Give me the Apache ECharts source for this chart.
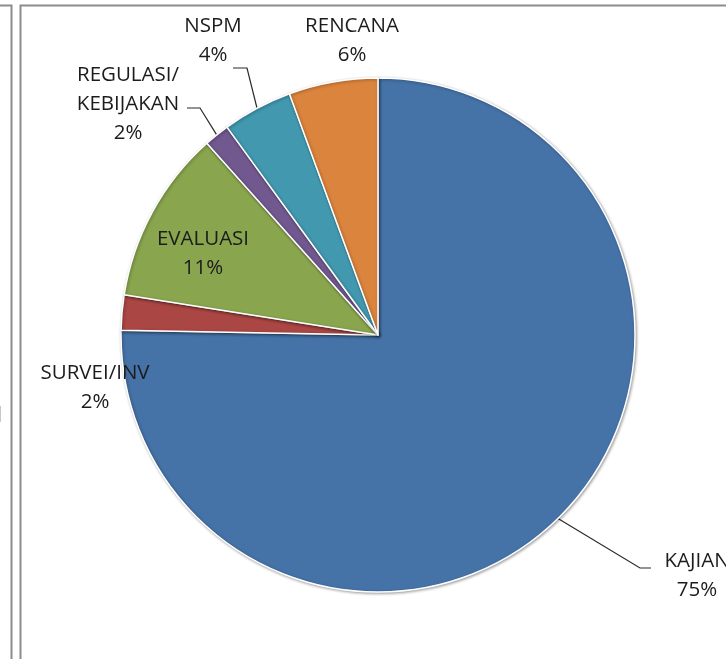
<!DOCTYPE html>
<html><head><meta charset="utf-8">
<script src="https://cdn.jsdelivr.net/npm/echarts@6/dist/echarts.min.js"></script>
<style>html,body{margin:0;padding:0;background:#fff}#c{width:726px;height:659px}</style>
</head><body><div id="c"></div>
<script>
const categories = ['KAJIAN', 'SURVEI/INV', 'EVALUASI', 'REGULASI/\nKEBIJAKAN', 'NSPM', 'RENCANA'];
const shares = [75.3, 2.2, 10.9, 1.6, 4.4, 5.6];
const colors = ['#4572A7', '#AA4643', '#89A54E', '#71588F', '#4198AF', '#DB843D'];

// label placement (text block centre) and leader line bends
const labelPlace = [
  { x: 697, y: 576, bend: [640, 568], end: [651, 568] },
  { x: 95, y: 388 },
  { x: 203, y: 254 },
  { x: 128, y: 104, bend: [200, 108], end: [187, 108] },
  { x: 213, y: 41, bend: [247, 68], end: [233, 68] },
  { x: 352, y: 41 }
];

const chart = echarts.init(document.getElementById('c'), null, { renderer: 'canvas' });
const data = categories.map((name, i) => ({
  name: name,
  value: shares[i],
  itemStyle: { color: colors[i] },
  label: { position: i === 2 ? 'inside' : 'outside' },
  labelLine: { show: !!labelPlace[i].bend }
}));

chart.setOption({
  animation: false,
  backgroundColor: '#ffffff',
  graphic: [
    { type: 'polyline', shape: { points: [[0, 5.5], [11.5, 5.5], [11.5, 659]] }, style: { stroke: '#8c8c8c', lineWidth: 2, fill: null } },
    { type: 'polyline', shape: { points: [[20.5, 659], [20.5, 5.5], [726, 5.5]] }, style: { stroke: '#8c8c8c', lineWidth: 2, fill: null } },
    { type: 'line', shape: { x1: 0.5, y1: 406, x2: 0.5, y2: 422 }, style: { stroke: '#c8c8c8', lineWidth: 1 } }
  ],
  series: [{
    type: 'pie',
    center: [378, 335],
    radius: 257,
    startAngle: 90,
    clockwise: true,
    avoidLabelOverlap: false,
    percentPrecision: 0,
    emphasis: { disabled: true },
    itemStyle: {
      borderColor: '#ffffff',
      borderWidth: 1.5,
      shadowBlur: 3,
      shadowColor: 'rgba(0,0,0,0.35)',
      shadowOffsetX: 1,
      shadowOffsetY: 1
    },
    label: {
      formatter: '{b}\n{d}%',
      fontFamily: 'Open Sans',
      fontSize: 20.5,
      lineHeight: 29,
      color: '#1c1c1c',
      align: 'center'
    },
    labelLine: {
      lineStyle: { color: '#2a2a2a', width: 1.2 },
      smooth: false
    },
    labelLayout: function (params) {
      const p = labelPlace[params.dataIndex];
      const out = { x: p.x, y: p.y, align: 'center', verticalAlign: 'middle' };
      if (p.bend && params.labelLinePoints) {
        out.labelLinePoints = [params.labelLinePoints[0], p.bend, p.end];
      }
      return out;
    },
    data: data
  }]
});
</script>
</body></html>
